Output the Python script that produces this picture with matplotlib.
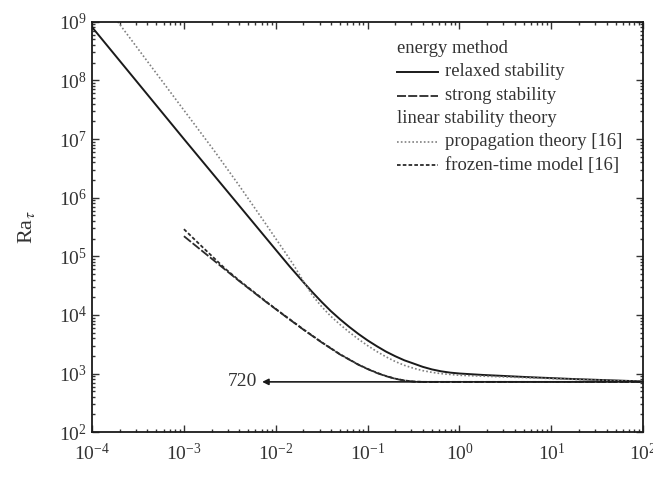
import matplotlib
matplotlib.use("Agg")
import matplotlib.pyplot as plt
from matplotlib.lines import Line2D
from matplotlib.ticker import LogLocator

plt.rcParams['font.family'] = ['Liberation Serif', 'DejaVu Serif']
plt.rcParams['mathtext.fontset'] = 'stix'

# critical Rayleigh number vs. dimensionless time
tau_relaxed = [1e-4, 1e-3, 0.01, 0.0141, 0.01995, 0.0251, 0.0316, 0.0398, 0.0501,
               0.0631, 0.0794, 0.1, 0.126, 0.158, 0.2, 0.251, 0.316, 0.398, 0.501,
               0.631, 0.794, 1.0, 1.78, 5.62, 17.8, 100.0]
ra_relaxed = [8.1e8, 1.0e7, 1.29e5, 6.76e4, 3.63e4, 2.43e4, 1.66e4, 1.16e4, 8.41e3,
              6.24e3, 4.73e3, 3.67e3, 2.92e3, 2.37e3, 1.97e3, 1.68e3, 1.48e3, 1.30e3,
              1.175e3, 1.09e3, 1.035e3, 1.0e3, 946, 867, 804, 733]

tau_strong = [1e-3, 0.002, 0.00398, 0.00794, 0.0126, 0.01995, 0.0316, 0.0501, 0.0794,
              0.1, 0.126, 0.158, 0.2, 0.251, 0.316, 0.398, 100.0]
ra_strong = [2.2e5, 9.12e4, 3.8e4, 1.64e4, 9.55e3, 5.62e3, 3.39e3, 2.11e3, 1.41e3,
             1.19e3, 1.02e3, 902, 813, 759, 728, 720, 720]

tau_prop = [1.905e-4, 6.31e-4, 0.0021, 0.00398, 0.00741, 0.0126, 0.0158, 0.01995,
            0.0251, 0.0316, 0.0398, 0.0501, 0.0631, 0.0794, 0.1, 0.126, 0.158, 0.2,
            0.251, 0.316, 0.398, 0.501, 0.631, 1.0, 1.78, 5.62, 17.8, 100.0]
ra_prop = [1e9, 8.13e7, 6.55e6, 1.62e6, 3.98e5, 1.175e5, 6.92e4, 3.76e4,
           2.14e4, 1.38e4, 9.44e3, 6.84e3, 5.07e3, 3.85e3, 2.99e3, 2.37e3, 1.93e3, 1.60e3,
           1.38e3, 1.23e3, 1.12e3, 1.047e3, 995, 933, 902, 845, 794, 729]

tau_frozen = [1e-3, 0.0014, 0.002, 0.0028, 0.00398, 0.00794, 0.0126, 0.01995, 0.0316,
              0.0501, 0.0794, 0.1, 0.126, 0.158, 0.2, 0.251, 0.316, 0.398, 100.0]
ra_frozen = [2.9e5, 1.74e5, 1.02e5, 6.17e4, 3.89e4, 1.66e4, 9.65e3, 5.68e3, 3.42e3,
             2.13e3, 1.42e3, 1.2e3, 1.03e3, 908, 817, 762, 730, 720, 720]

ra_limit = 720
tau_arrow = 0.0071

fig = plt.figure(figsize=(6.53, 4.95), dpi=100)
ax = fig.add_axes([0.141, 0.127, 0.844, 0.829])

style_relaxed = dict(color='#1a1a1a', lw=1.4)
style_strong = dict(color='#2a2a2a', lw=1.3, dashes=(5, 1.2))
style_prop = dict(color='#808080', lw=1.2, dashes=(1, 1.3))
style_frozen = dict(color='#2a2a2a', lw=1.3, dashes=(2, 1.2))

ax.plot(tau_relaxed, ra_relaxed, **style_relaxed)
ax.plot(tau_strong, ra_strong, **style_strong)
ax.plot(tau_prop, ra_prop, **style_prop)
ax.plot(tau_frozen, ra_frozen, **style_frozen)

# asymptotic limit
ax.annotate('', xy=(tau_arrow, ra_limit), xytext=(100, ra_limit),
            arrowprops=dict(arrowstyle='-|>', color='#1a1a1a', lw=1.2,
                            mutation_scale=9, shrinkA=0, shrinkB=0))
ax.text(0.0062, ra_limit, str(ra_limit), ha='right', va='center', fontsize=14,
        color='#333333')

ax.set_xscale('log')
ax.set_yscale('log')
ax.set_xlim(1e-4, 1e2)
ax.set_ylim(1e2, 1e9)
ax.xaxis.set_major_locator(LogLocator(base=10, numticks=10))
ax.yaxis.set_major_locator(LogLocator(base=10, numticks=10))
ax.xaxis.set_minor_locator(LogLocator(base=10, subs=range(2, 10), numticks=20))
ax.yaxis.set_minor_locator(LogLocator(base=10, subs=range(2, 10), numticks=20))

ax.tick_params(which='both', direction='in', top=True, right=True, width=1.0,
               labelsize=14, colors='#333333')
ax.tick_params(which='major', length=5)
ax.tick_params(which='minor', length=2.5)
ax.tick_params(axis='x', pad=8)
for s in ax.spines.values():
    s.set_linewidth(1.3)
    s.set_color('#1a1a1a')

ax.set_xlabel(r'$\tau$', fontsize=14, labelpad=21, color='#333333')
ax.set_ylabel(r'Ra$_\tau$', fontsize=16, labelpad=16, color='#333333')

# legend with group headings
tr = ax.transAxes
x0, x1, xt = 0.5535, 0.628, 0.641
rows = [0.934, 0.878, 0.82, 0.764, 0.708, 0.65]
legend_rows = [
    ('energy method', None),
    ('relaxed stability', style_relaxed),
    ('strong stability', style_strong),
    ('linear stability theory', None),
    ('propagation theory [16]', style_prop),
    ('frozen-time model [16]', style_frozen),
]
for y, (label, style) in zip(rows, legend_rows):
    if style is None:
        ax.text(x0, y, label, transform=tr, fontsize=13.4, va='center', color='#333333')
    else:
        ax.add_line(Line2D([x0, x1], [y, y], transform=tr, **style))
        ax.text(xt, y, label, transform=tr, fontsize=13.4, va='center', color='#333333')

fig.savefig('out.png', dpi=100)
